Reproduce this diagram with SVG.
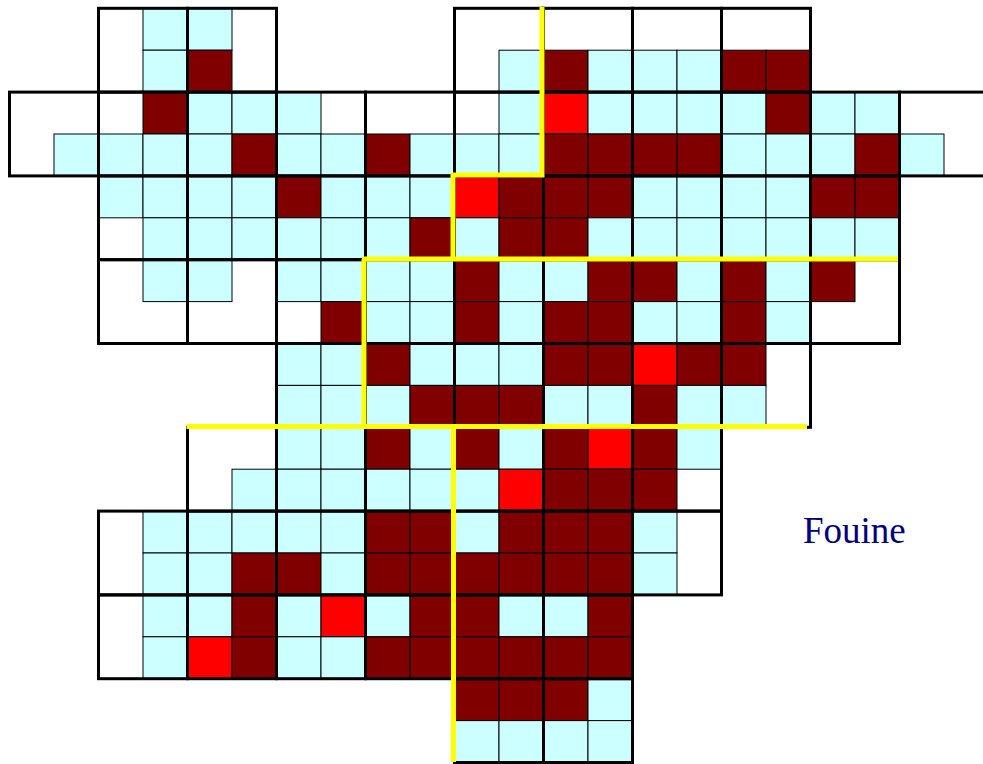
<svg xmlns="http://www.w3.org/2000/svg" width="983" height="764" viewBox="0 0 983 764">
<style>
.c{fill:#CCFFFF;stroke:#000;stroke-width:1}
.d{fill:#800000;stroke:#000;stroke-width:1}
.r{fill:#FF0000;stroke:#000;stroke-width:1}
.b{fill:none;stroke:#000;stroke-width:3}
.y{fill:none;stroke:#FFFF00;stroke-width:5;stroke-linejoin:miter;stroke-linecap:butt}
.t{font-family:"Liberation Serif","Times New Roman",serif;font-size:37px;fill:#000080}
</style>
<rect width="983" height="764" fill="#fff"/>
<g id="cells">
<g id="row0"><rect class="c" x="143" y="8.3" width="44.5" height="41.9"/><rect class="c" x="187.5" y="8.3" width="44.5" height="41.9"/></g>
<g id="row1"><rect class="c" x="143" y="50.2" width="44.5" height="41.9"/><rect class="d" x="187.5" y="50.2" width="44.5" height="41.9"/><rect class="c" x="499" y="50.2" width="44.5" height="41.9"/><rect class="d" x="543.5" y="50.2" width="44.5" height="41.9"/><rect class="c" x="588" y="50.2" width="44.5" height="41.9"/><rect class="c" x="632.5" y="50.2" width="44.5" height="41.9"/><rect class="c" x="677" y="50.2" width="44.5" height="41.9"/><rect class="d" x="721.5" y="50.2" width="44.5" height="41.9"/><rect class="d" x="766" y="50.2" width="44.5" height="41.9"/></g>
<g id="row2"><rect class="d" x="143" y="92.1" width="44.5" height="41.9"/><rect class="c" x="187.5" y="92.1" width="44.5" height="41.9"/><rect class="c" x="232" y="92.1" width="44.5" height="41.9"/><rect class="c" x="276.5" y="92.1" width="44.5" height="41.9"/><rect class="c" x="499" y="92.1" width="44.5" height="41.9"/><rect class="r" x="543.5" y="92.1" width="44.5" height="41.9"/><rect class="c" x="588" y="92.1" width="44.5" height="41.9"/><rect class="c" x="632.5" y="92.1" width="44.5" height="41.9"/><rect class="c" x="677" y="92.1" width="44.5" height="41.9"/><rect class="c" x="721.5" y="92.1" width="44.5" height="41.9"/><rect class="d" x="766" y="92.1" width="44.5" height="41.9"/><rect class="c" x="810.5" y="92.1" width="44.5" height="41.9"/><rect class="c" x="855" y="92.1" width="44.5" height="41.9"/></g>
<g id="row3"><rect class="c" x="54" y="134" width="44.5" height="41.9"/><rect class="c" x="98.5" y="134" width="44.5" height="41.9"/><rect class="c" x="143" y="134" width="44.5" height="41.9"/><rect class="c" x="187.5" y="134" width="44.5" height="41.9"/><rect class="d" x="232" y="134" width="44.5" height="41.9"/><rect class="c" x="276.5" y="134" width="44.5" height="41.9"/><rect class="c" x="321" y="134" width="44.5" height="41.9"/><rect class="d" x="365.5" y="134" width="44.5" height="41.9"/><rect class="c" x="410" y="134" width="44.5" height="41.9"/><rect class="c" x="454.5" y="134" width="44.5" height="41.9"/><rect class="c" x="499" y="134" width="44.5" height="41.9"/><rect class="d" x="543.5" y="134" width="44.5" height="41.9"/><rect class="d" x="588" y="134" width="44.5" height="41.9"/><rect class="d" x="632.5" y="134" width="44.5" height="41.9"/><rect class="d" x="677" y="134" width="44.5" height="41.9"/><rect class="c" x="721.5" y="134" width="44.5" height="41.9"/><rect class="c" x="766" y="134" width="44.5" height="41.9"/><rect class="c" x="810.5" y="134" width="44.5" height="41.9"/><rect class="d" x="855" y="134" width="44.5" height="41.9"/><rect class="c" x="899.5" y="134" width="44.5" height="41.9"/></g>
<g id="row4"><rect class="c" x="98.5" y="175.9" width="44.5" height="41.9"/><rect class="c" x="143" y="175.9" width="44.5" height="41.9"/><rect class="c" x="187.5" y="175.9" width="44.5" height="41.9"/><rect class="c" x="232" y="175.9" width="44.5" height="41.9"/><rect class="d" x="276.5" y="175.9" width="44.5" height="41.9"/><rect class="c" x="321" y="175.9" width="44.5" height="41.9"/><rect class="c" x="365.5" y="175.9" width="44.5" height="41.9"/><rect class="c" x="410" y="175.9" width="44.5" height="41.9"/><rect class="r" x="454.5" y="175.9" width="44.5" height="41.9"/><rect class="d" x="499" y="175.9" width="44.5" height="41.9"/><rect class="d" x="543.5" y="175.9" width="44.5" height="41.9"/><rect class="d" x="588" y="175.9" width="44.5" height="41.9"/><rect class="c" x="632.5" y="175.9" width="44.5" height="41.9"/><rect class="c" x="677" y="175.9" width="44.5" height="41.9"/><rect class="c" x="721.5" y="175.9" width="44.5" height="41.9"/><rect class="c" x="766" y="175.9" width="44.5" height="41.9"/><rect class="d" x="810.5" y="175.9" width="44.5" height="41.9"/><rect class="d" x="855" y="175.9" width="44.5" height="41.9"/></g>
<g id="row5"><rect class="c" x="143" y="217.8" width="44.5" height="41.9"/><rect class="c" x="187.5" y="217.8" width="44.5" height="41.9"/><rect class="c" x="232" y="217.8" width="44.5" height="41.9"/><rect class="c" x="276.5" y="217.8" width="44.5" height="41.9"/><rect class="c" x="321" y="217.8" width="44.5" height="41.9"/><rect class="c" x="365.5" y="217.8" width="44.5" height="41.9"/><rect class="d" x="410" y="217.8" width="44.5" height="41.9"/><rect class="c" x="454.5" y="217.8" width="44.5" height="41.9"/><rect class="d" x="499" y="217.8" width="44.5" height="41.9"/><rect class="d" x="543.5" y="217.8" width="44.5" height="41.9"/><rect class="c" x="588" y="217.8" width="44.5" height="41.9"/><rect class="c" x="632.5" y="217.8" width="44.5" height="41.9"/><rect class="c" x="677" y="217.8" width="44.5" height="41.9"/><rect class="c" x="721.5" y="217.8" width="44.5" height="41.9"/><rect class="c" x="766" y="217.8" width="44.5" height="41.9"/><rect class="c" x="810.5" y="217.8" width="44.5" height="41.9"/><rect class="c" x="855" y="217.8" width="44.5" height="41.9"/></g>
<g id="row6"><rect class="c" x="143" y="259.7" width="44.5" height="41.9"/><rect class="c" x="187.5" y="259.7" width="44.5" height="41.9"/><rect class="c" x="276.5" y="259.7" width="44.5" height="41.9"/><rect class="c" x="321" y="259.7" width="44.5" height="41.9"/><rect class="c" x="365.5" y="259.7" width="44.5" height="41.9"/><rect class="c" x="410" y="259.7" width="44.5" height="41.9"/><rect class="d" x="454.5" y="259.7" width="44.5" height="41.9"/><rect class="c" x="499" y="259.7" width="44.5" height="41.9"/><rect class="c" x="543.5" y="259.7" width="44.5" height="41.9"/><rect class="d" x="588" y="259.7" width="44.5" height="41.9"/><rect class="d" x="632.5" y="259.7" width="44.5" height="41.9"/><rect class="c" x="677" y="259.7" width="44.5" height="41.9"/><rect class="d" x="721.5" y="259.7" width="44.5" height="41.9"/><rect class="c" x="766" y="259.7" width="44.5" height="41.9"/><rect class="d" x="810.5" y="259.7" width="44.5" height="41.9"/></g>
<g id="row7"><rect class="d" x="321" y="301.6" width="44.5" height="41.9"/><rect class="c" x="365.5" y="301.6" width="44.5" height="41.9"/><rect class="c" x="410" y="301.6" width="44.5" height="41.9"/><rect class="d" x="454.5" y="301.6" width="44.5" height="41.9"/><rect class="c" x="499" y="301.6" width="44.5" height="41.9"/><rect class="d" x="543.5" y="301.6" width="44.5" height="41.9"/><rect class="d" x="588" y="301.6" width="44.5" height="41.9"/><rect class="c" x="632.5" y="301.6" width="44.5" height="41.9"/><rect class="c" x="677" y="301.6" width="44.5" height="41.9"/><rect class="d" x="721.5" y="301.6" width="44.5" height="41.9"/><rect class="c" x="766" y="301.6" width="44.5" height="41.9"/></g>
<g id="row8"><rect class="c" x="276.5" y="343.5" width="44.5" height="41.9"/><rect class="c" x="321" y="343.5" width="44.5" height="41.9"/><rect class="d" x="365.5" y="343.5" width="44.5" height="41.9"/><rect class="c" x="410" y="343.5" width="44.5" height="41.9"/><rect class="c" x="454.5" y="343.5" width="44.5" height="41.9"/><rect class="c" x="499" y="343.5" width="44.5" height="41.9"/><rect class="d" x="543.5" y="343.5" width="44.5" height="41.9"/><rect class="d" x="588" y="343.5" width="44.5" height="41.9"/><rect class="r" x="632.5" y="343.5" width="44.5" height="41.9"/><rect class="d" x="677" y="343.5" width="44.5" height="41.9"/><rect class="d" x="721.5" y="343.5" width="44.5" height="41.9"/></g>
<g id="row9"><rect class="c" x="276.5" y="385.4" width="44.5" height="41.9"/><rect class="c" x="321" y="385.4" width="44.5" height="41.9"/><rect class="c" x="365.5" y="385.4" width="44.5" height="41.9"/><rect class="d" x="410" y="385.4" width="44.5" height="41.9"/><rect class="d" x="454.5" y="385.4" width="44.5" height="41.9"/><rect class="d" x="499" y="385.4" width="44.5" height="41.9"/><rect class="c" x="543.5" y="385.4" width="44.5" height="41.9"/><rect class="c" x="588" y="385.4" width="44.5" height="41.9"/><rect class="d" x="632.5" y="385.4" width="44.5" height="41.9"/><rect class="c" x="677" y="385.4" width="44.5" height="41.9"/><rect class="c" x="721.5" y="385.4" width="44.5" height="41.9"/></g>
<g id="row10"><rect class="c" x="276.5" y="427.3" width="44.5" height="41.9"/><rect class="c" x="321" y="427.3" width="44.5" height="41.9"/><rect class="d" x="365.5" y="427.3" width="44.5" height="41.9"/><rect class="c" x="410" y="427.3" width="44.5" height="41.9"/><rect class="d" x="454.5" y="427.3" width="44.5" height="41.9"/><rect class="c" x="499" y="427.3" width="44.5" height="41.9"/><rect class="d" x="543.5" y="427.3" width="44.5" height="41.9"/><rect class="r" x="588" y="427.3" width="44.5" height="41.9"/><rect class="d" x="632.5" y="427.3" width="44.5" height="41.9"/><rect class="c" x="677" y="427.3" width="44.5" height="41.9"/></g>
<g id="row11"><rect class="c" x="232" y="469.2" width="44.5" height="41.9"/><rect class="c" x="276.5" y="469.2" width="44.5" height="41.9"/><rect class="c" x="321" y="469.2" width="44.5" height="41.9"/><rect class="c" x="365.5" y="469.2" width="44.5" height="41.9"/><rect class="c" x="410" y="469.2" width="44.5" height="41.9"/><rect class="c" x="454.5" y="469.2" width="44.5" height="41.9"/><rect class="r" x="499" y="469.2" width="44.5" height="41.9"/><rect class="d" x="543.5" y="469.2" width="44.5" height="41.9"/><rect class="d" x="588" y="469.2" width="44.5" height="41.9"/><rect class="d" x="632.5" y="469.2" width="44.5" height="41.9"/></g>
<g id="row12"><rect class="c" x="143" y="511.1" width="44.5" height="41.9"/><rect class="c" x="187.5" y="511.1" width="44.5" height="41.9"/><rect class="c" x="232" y="511.1" width="44.5" height="41.9"/><rect class="c" x="276.5" y="511.1" width="44.5" height="41.9"/><rect class="c" x="321" y="511.1" width="44.5" height="41.9"/><rect class="d" x="365.5" y="511.1" width="44.5" height="41.9"/><rect class="d" x="410" y="511.1" width="44.5" height="41.9"/><rect class="c" x="454.5" y="511.1" width="44.5" height="41.9"/><rect class="d" x="499" y="511.1" width="44.5" height="41.9"/><rect class="d" x="543.5" y="511.1" width="44.5" height="41.9"/><rect class="d" x="588" y="511.1" width="44.5" height="41.9"/><rect class="c" x="632.5" y="511.1" width="44.5" height="41.9"/></g>
<g id="row13"><rect class="c" x="143" y="553" width="44.5" height="41.9"/><rect class="c" x="187.5" y="553" width="44.5" height="41.9"/><rect class="d" x="232" y="553" width="44.5" height="41.9"/><rect class="d" x="276.5" y="553" width="44.5" height="41.9"/><rect class="c" x="321" y="553" width="44.5" height="41.9"/><rect class="d" x="365.5" y="553" width="44.5" height="41.9"/><rect class="d" x="410" y="553" width="44.5" height="41.9"/><rect class="d" x="454.5" y="553" width="44.5" height="41.9"/><rect class="d" x="499" y="553" width="44.5" height="41.9"/><rect class="d" x="543.5" y="553" width="44.5" height="41.9"/><rect class="d" x="588" y="553" width="44.5" height="41.9"/><rect class="c" x="632.5" y="553" width="44.5" height="41.9"/></g>
<g id="row14"><rect class="c" x="143" y="594.9" width="44.5" height="41.9"/><rect class="c" x="187.5" y="594.9" width="44.5" height="41.9"/><rect class="d" x="232" y="594.9" width="44.5" height="41.9"/><rect class="c" x="276.5" y="594.9" width="44.5" height="41.9"/><rect class="r" x="321" y="594.9" width="44.5" height="41.9"/><rect class="c" x="365.5" y="594.9" width="44.5" height="41.9"/><rect class="d" x="410" y="594.9" width="44.5" height="41.9"/><rect class="d" x="454.5" y="594.9" width="44.5" height="41.9"/><rect class="c" x="499" y="594.9" width="44.5" height="41.9"/><rect class="c" x="543.5" y="594.9" width="44.5" height="41.9"/><rect class="d" x="588" y="594.9" width="44.5" height="41.9"/></g>
<g id="row15"><rect class="c" x="143" y="636.8" width="44.5" height="41.9"/><rect class="r" x="187.5" y="636.8" width="44.5" height="41.9"/><rect class="d" x="232" y="636.8" width="44.5" height="41.9"/><rect class="c" x="276.5" y="636.8" width="44.5" height="41.9"/><rect class="c" x="321" y="636.8" width="44.5" height="41.9"/><rect class="d" x="365.5" y="636.8" width="44.5" height="41.9"/><rect class="d" x="410" y="636.8" width="44.5" height="41.9"/><rect class="d" x="454.5" y="636.8" width="44.5" height="41.9"/><rect class="d" x="499" y="636.8" width="44.5" height="41.9"/><rect class="d" x="543.5" y="636.8" width="44.5" height="41.9"/><rect class="d" x="588" y="636.8" width="44.5" height="41.9"/></g>
<g id="row16"><rect class="d" x="454.5" y="678.7" width="44.5" height="41.9"/><rect class="d" x="499" y="678.7" width="44.5" height="41.9"/><rect class="d" x="543.5" y="678.7" width="44.5" height="41.9"/><rect class="c" x="588" y="678.7" width="44.5" height="41.9"/></g>
<g id="row17"><rect class="c" x="454.5" y="720.6" width="44.5" height="41.9"/><rect class="c" x="499" y="720.6" width="44.5" height="41.9"/><rect class="c" x="543.5" y="720.6" width="44.5" height="41.9"/><rect class="c" x="588" y="720.6" width="44.5" height="41.9"/></g>
</g>
<g id="blocks">
<g id="band0"><rect class="b" x="98.5" y="8.3" width="89" height="83.8"/><rect class="b" x="187.5" y="8.3" width="89" height="83.8"/><rect class="b" x="454.5" y="8.3" width="89" height="83.8"/><rect class="b" x="543.5" y="8.3" width="89" height="83.8"/><rect class="b" x="632.5" y="8.3" width="89" height="83.8"/><rect class="b" x="721.5" y="8.3" width="89" height="83.8"/></g>
<g id="band1"><rect class="b" x="9.5" y="92.1" width="89" height="83.8"/><rect class="b" x="98.5" y="92.1" width="89" height="83.8"/><rect class="b" x="187.5" y="92.1" width="89" height="83.8"/><rect class="b" x="276.5" y="92.1" width="89" height="83.8"/><rect class="b" x="365.5" y="92.1" width="89" height="83.8"/><rect class="b" x="454.5" y="92.1" width="89" height="83.8"/><rect class="b" x="543.5" y="92.1" width="89" height="83.8"/><rect class="b" x="632.5" y="92.1" width="89" height="83.8"/><rect class="b" x="721.5" y="92.1" width="89" height="83.8"/><rect class="b" x="810.5" y="92.1" width="89" height="83.8"/><rect class="b" x="899.5" y="92.1" width="89" height="83.8"/></g>
<g id="band2"><rect class="b" x="98.5" y="175.9" width="89" height="83.8"/><rect class="b" x="187.5" y="175.9" width="89" height="83.8"/><rect class="b" x="276.5" y="175.9" width="89" height="83.8"/><rect class="b" x="365.5" y="175.9" width="89" height="83.8"/><rect class="b" x="454.5" y="175.9" width="89" height="83.8"/><rect class="b" x="543.5" y="175.9" width="89" height="83.8"/><rect class="b" x="632.5" y="175.9" width="89" height="83.8"/><rect class="b" x="721.5" y="175.9" width="89" height="83.8"/><rect class="b" x="810.5" y="175.9" width="89" height="83.8"/></g>
<g id="band3"><rect class="b" x="98.5" y="259.7" width="89" height="83.8"/><rect class="b" x="187.5" y="259.7" width="89" height="83.8"/><rect class="b" x="276.5" y="259.7" width="89" height="83.8"/><rect class="b" x="365.5" y="259.7" width="89" height="83.8"/><rect class="b" x="454.5" y="259.7" width="89" height="83.8"/><rect class="b" x="543.5" y="259.7" width="89" height="83.8"/><rect class="b" x="632.5" y="259.7" width="89" height="83.8"/><rect class="b" x="721.5" y="259.7" width="89" height="83.8"/><rect class="b" x="810.5" y="259.7" width="89" height="83.8"/></g>
<g id="band4"><rect class="b" x="276.5" y="343.5" width="89" height="83.8"/><rect class="b" x="365.5" y="343.5" width="89" height="83.8"/><rect class="b" x="454.5" y="343.5" width="89" height="83.8"/><rect class="b" x="543.5" y="343.5" width="89" height="83.8"/><rect class="b" x="632.5" y="343.5" width="89" height="83.8"/><rect class="b" x="721.5" y="343.5" width="89" height="83.8"/></g>
<g id="band5"><rect class="b" x="187.5" y="427.3" width="89" height="83.8"/><rect class="b" x="276.5" y="427.3" width="89" height="83.8"/><rect class="b" x="365.5" y="427.3" width="89" height="83.8"/><rect class="b" x="454.5" y="427.3" width="89" height="83.8"/><rect class="b" x="543.5" y="427.3" width="89" height="83.8"/><rect class="b" x="632.5" y="427.3" width="89" height="83.8"/></g>
<g id="band6"><rect class="b" x="98.5" y="511.1" width="89" height="83.8"/><rect class="b" x="187.5" y="511.1" width="89" height="83.8"/><rect class="b" x="276.5" y="511.1" width="89" height="83.8"/><rect class="b" x="365.5" y="511.1" width="89" height="83.8"/><rect class="b" x="454.5" y="511.1" width="89" height="83.8"/><rect class="b" x="543.5" y="511.1" width="89" height="83.8"/><rect class="b" x="632.5" y="511.1" width="89" height="83.8"/></g>
<g id="band7"><rect class="b" x="98.5" y="594.9" width="89" height="83.8"/><rect class="b" x="187.5" y="594.9" width="89" height="83.8"/><rect class="b" x="276.5" y="594.9" width="89" height="83.8"/><rect class="b" x="365.5" y="594.9" width="89" height="83.8"/><rect class="b" x="454.5" y="594.9" width="89" height="83.8"/><rect class="b" x="543.5" y="594.9" width="89" height="83.8"/></g>
<g id="band8"><rect class="b" x="454.5" y="678.7" width="89" height="83.8"/><rect class="b" x="543.5" y="678.7" width="89" height="83.8"/></g>
</g>
<g id="yellow-lines">
<path class="y" d="M542,7 V175 H453 V259"/>
<path class="y" d="M362,259 H898"/>
<path class="y" d="M364,259 V427"/>
<path class="y" d="M186.5,426.5 H807"/>
<path class="y" d="M453.5,426.5 V762"/>
</g>
<g id="label"><text class="t" x="803" y="543">Fouine</text></g>
</svg>
